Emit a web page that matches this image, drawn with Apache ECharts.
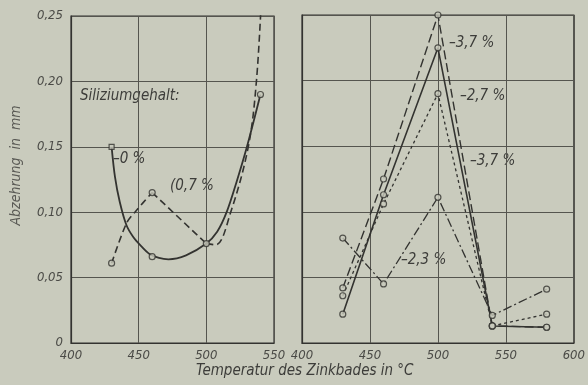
<!DOCTYPE html>
<html><head><meta charset="utf-8">
<script src="https://cdn.jsdelivr.net/npm/echarts@6/dist/echarts.min.js"></script>
<style>html,body{margin:0;padding:0;background:#c9cbbd}#c{width:588px;height:385px}</style>
</head><body><div id="c"></div>
<script>
// ---- Data ----
// Left panel: x = bath temperature (°C), y = wastage (mm)
var leftCurve0X   = [430, 432.5, 436, 441, 446, 451, 458, 465, 472, 485, 500, 508, 515, 522, 530, 540];
var leftCurve0Y   = [0.150, 0.127, 0.108, 0.090, 0.081, 0.075, 0.068, 0.065, 0.064, 0.067, 0.076, 0.085, 0.100, 0.122, 0.150, 0.190];
var leftPts0X     = [460, 500, 540];
var leftPts0Y     = [0.066, 0.076, 0.190];
var leftSq0X      = [430];
var leftSq0Y      = [0.150];
var left07HeadX   = [430, 441, 448, 460];
var left07HeadY   = [0.061, 0.0915, 0.101, 0.115];
var left07MidX    = [460, 500];
var left07MidY    = [0.115, 0.076];
var left07TailX   = [500, 507, 518, 531, 537, 541];
var left07TailY   = [0.076, 0.075, 0.100, 0.150, 0.200, 0.270];
var left07PtsX    = [430, 460];
var left07PtsY    = [0.061, 0.115];
// Right panel
var rightX        = [430, 460, 500, 540, 580];
var right37a      = [0.042, 0.125, 0.250, 0.013, 0.012]; // 3,7 % long dash
var right27       = [0.022, 0.113, 0.225, 0.013, 0.012]; // 2,7 % solid
var right37b      = [0.036, 0.106, 0.190, 0.013, 0.022]; // 3,7 % short dash
var right23       = [0.080, 0.045, 0.111, 0.021, 0.041]; // 2,3 % dash-dot
var yTicks        = [0, 0.05, 0.10, 0.15, 0.20, 0.25];
var leftXTicks    = [400, 450, 500, 550];
var rightXTicks   = [400, 450, 500, 550, 600];

function zip(xs, ys){ return xs.map(function(x,i){ return [x, ys[i]]; }); }

var INK = '#333330', GRID = '#55554f', BG = '#c9cbbd';
var FONT = '"DejaVu Sans Condensed","DejaVu Sans",sans-serif';
var lblStyle = {color:'#4a4a46', fontStyle:'italic', fontFamily:FONT, fontSize:13};

function xAx(gi, ticks){
  return {type:'value', gridIndex:gi, min:ticks[0], max:ticks[ticks.length-1], interval:50,
    axisLine:{show:true, lineStyle:{color:INK, width:1.2}}, axisTick:{show:false},
    splitLine:{show:true, lineStyle:{color:GRID, width:1}},
    axisLabel:Object.assign({margin:6}, lblStyle)};
}
function yAx(gi, showLabel){
  var o = {type:'value', gridIndex:gi, min:yTicks[0], max:yTicks[yTicks.length-1], interval:0.05,
    axisLine:{show:true, lineStyle:{color:INK, width:1.2}}, axisTick:{show:false},
    splitLine:{show:true, lineStyle:{color:GRID, width:1}},
    axisLabel:Object.assign({show:showLabel, margin:8, formatter:function(v){ return v===0?'0':v.toFixed(2).replace('.',','); }}, lblStyle)};
  if (showLabel){
    o.name = 'Abzehrung  in  mm'; o.nameLocation='middle'; o.nameGap=48; o.nameRotate=90;
    o.nameTextStyle = {color:'#5a5a55', fontStyle:'italic', fontFamily:FONT, fontSize:14, padding:[0,0,0,28]};
  }
  return o;
}
function line(data, gi, type, width, smooth){
  return {type:'line', xAxisIndex:gi, yAxisIndex:gi, data:data, showSymbol:false, symbol:'none',
    smooth:smooth||false, silent:true, clip:true,
    lineStyle:{color:INK, width:width, type:type}, z:2};
}
function pts(data, gi, sym){
  return {type:'scatter', xAxisIndex:gi, yAxisIndex:gi, data:data, symbol:sym||'circle', symbolSize:sym==='rect'?5:6,
    itemStyle:{color:BG, borderColor:INK, borderWidth:1.2}, silent:true, z:5};
}

var chart = echarts.init(document.getElementById('c'), null, {renderer:'canvas'});
chart.setOption({
  backgroundColor: BG,
  animation:false,
  grid:[
    {left:71, top:16, width:203, height:327, show:true, borderColor:INK, borderWidth:1.2, backgroundColor:'transparent'},
    {left:302, top:15, width:276, height:328, show:true, borderColor:INK, borderWidth:1.2, backgroundColor:'transparent'}
  ],
  xAxis:[xAx(0, leftXTicks), xAx(1, rightXTicks)],
  yAxis:[yAx(0, true), yAx(1, false)],
  series:[
    line(zip(leftCurve0X, leftCurve0Y), 0, 'solid', 1.8, 0.3),
    line(zip(left07HeadX, left07HeadY), 0, [7,4], 1.6, 0.3),
    line(zip(left07MidX, left07MidY), 0, [7,4], 1.6, false),
    line(zip(left07TailX, left07TailY), 0, [7,4], 1.6, 0.35),
    pts(zip(leftPts0X, leftPts0Y), 0),
    pts(zip(leftSq0X, leftSq0Y), 0, 'rect'),
    pts(zip(left07PtsX, left07PtsY), 0),
    line(zip(rightX, right37a), 1, [9,4], 1.4),
    line(zip(rightX, right27), 1, 'solid', 1.6),
    line(zip(rightX, right37b), 1, [3,3], 1.3),
    line(zip(rightX, right23), 1, [9,3,2,3], 1.3),
    pts(zip(rightX, right37a), 1),
    pts(zip(rightX, right27), 1),
    pts(zip(rightX, right37b), 1),
    pts(zip(rightX, right23), 1)
  ],
  graphic:[
    {type:'text', left:80, top:89, style:{text:'Siliziumgehalt:', fill:'#3d3d3a', font:'italic 15px '+FONT}},
    {type:'text', left:113, top:152, style:{text:'–0 %', fill:'#3d3d3a', font:'italic 15px '+FONT}},
    {type:'text', left:170, top:179, style:{text:'(0,7 %', fill:'#3d3d3a', font:'italic 15px '+FONT}},
    {type:'text', left:449, top:36, style:{text:'–3,7 %', fill:'#3d3d3a', font:'italic 15px '+FONT}},
    {type:'text', left:460, top:89, style:{text:'–2,7 %', fill:'#3d3d3a', font:'italic 15px '+FONT}},
    {type:'text', left:470, top:154, style:{text:'–3,7 %', fill:'#3d3d3a', font:'italic 15px '+FONT}},
    {type:'text', left:401, top:253, style:{text:'–2,3 %', fill:'#3d3d3a', font:'italic 15px '+FONT}},
    {type:'text', left:196, top:364, style:{text:'Temperatur des Zinkbades in °C', fill:'#3d3d3a', font:'italic 15px '+FONT}}
  ]
});
</script></body></html>
